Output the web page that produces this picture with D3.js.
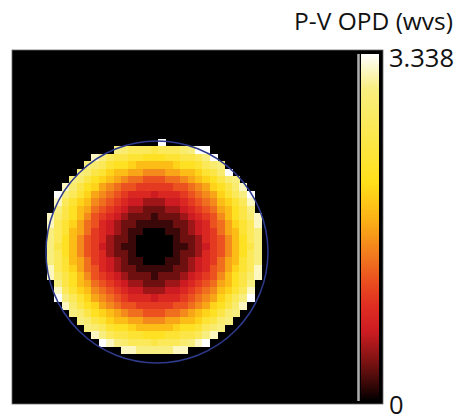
<!DOCTYPE html>
<html lang="en">
<head>
  <meta charset="UTF-8" />
  <title>P-V OPD map</title>
  <script src="https://cdn.jsdelivr.net/npm/d3@7"></script>
  <style>
    html, body {
      margin: 0;
      padding: 0;
      background: #fff;
      overflow: hidden;
    }
    svg {
      display: block;
    }
  </style>
</head>
<body>
  <script>
    // OPD levels, one char per pupil cell (0..k = 0..20 twentieths of max), "." = outside pupil
    const opdRows = [
      "...............k.............",
      ".........ihgggfggghikk.......",
      "......jigffeedddeeffgik......",
      ".....ihgeddcbbbbbcddeghi.....",
      "....ihfecbbaa999aabbcefhk....",
      "...ihfdcba988777889abcdfhi...",
      "..jhfdca9877666667789acdfhj..",
      ".kigeca987655545556789acegik.",
      ".jgecb98765443334456789bcegj.",
      ".ifdba87654332223345678abdfi.",
      "jhfdb9765432221222345679bdfhj",
      "jgeca8754322111112234578acegj",
      "igeba8654321100011234568abegi",
      "igdb976532210000012235679bdgi",
      "ifdb976432110000011234679bdfi",
      "igdb976532210000012235679bdgi",
      "igeba8654321100011234568abegi",
      "jgeca8754322111112234578acegj",
      "jhfdb9765432221222345679bdfhj",
      ".ifdba87654332223345678abdfi.",
      ".jgecb98765443334456789bcegj.",
      ".kigeca987655545556789acegik.",
      "..jhfdca9877666667789acdfhj..",
      "...ihfdcba988777889abcdfhi...",
      "....ihfecbbaa999aabbcefhi....",
      ".....ihgeddcbbbbbcddeghi.....",
      "......jigffeedddeeffgij......",
      ".......kjihgggfggghijk.......",
      "..........jjiiiiijj.........."
    ];
    const levelChars = "0123456789abcdefghijk";
    const maxOPD = 3.338;
    const colorbarTicks = [0, 3.338];
    const colorbarLabels = ["0", "3.338"];
    const legendTitle = "P-V OPD (wvs)";
    // pupil outline in grid units: centre column, centre row, radius
    const pupil = [14.86, 15.27, 15.0];

    // colormap stops (fraction of max) and colours, taken from the colour bar
    const cmapStops = [0, 0.03, 0.08, 0.13, 0.20, 0.27, 0.34, 0.42, 0.52, 0.63, 0.90, 1.0];
    const cmapColors = ["#000000", "#240404", "#5a0d0d", "#8c1414", "#cc1c22", "#df2c22",
                        "#ea4c1f", "#f27a1e", "#fbb016", "#ffe01a", "#f8ee80", "#ffffff"];

    const W = 457, H = 417;
    const nGrid = opdRows.length;

    const svg = d3.select("body").append("svg")
      .attr("width", W)
      .attr("height", H);

    const color = d3.scaleLinear()
      .domain(cmapStops.map(s => s * maxOPD))
      .range(cmapColors)
      .clamp(true);

    // grid -> pixel
    const x = d3.scaleLinear().domain([0, nGrid]).range([47, 261.6]);
    const y = d3.scaleLinear().domain([0, nGrid]).range([139, 353.6]);

    // black panel (map + colour bar frame)
    svg.append("rect")
      .attr("x", 12).attr("y", 50)
      .attr("width", 371).attr("height", 354)
      .attr("fill", "#000")
      .attr("stroke", "#6a6a6a")
      .attr("stroke-width", 0.8);

    // cells
    const cells = [];
    opdRows.forEach((row, i) => {
      [...row].forEach((ch, j) => {
        const k = levelChars.indexOf(ch);
        if (k >= 0) cells.push({ i, j, v: k / 20 * maxOPD });
      });
    });

    svg.append("g")
      .attr("shape-rendering", "crispEdges")
      .selectAll("rect")
      .data(cells)
      .join("rect")
        .attr("x", d => x(d.j))
        .attr("y", d => y(d.i))
        .attr("width", x(1) - x(0) + 0.5)
        .attr("height", y(1) - y(0) + 0.5)
        .attr("fill", d => color(d.v));

    // pupil outline
    svg.append("circle")
      .attr("cx", x(pupil[0]))
      .attr("cy", y(pupil[1]))
      .attr("r", x(pupil[2]) - x(0))
      .attr("fill", "none")
      .attr("stroke", "#2e3a8c")
      .attr("stroke-width", 1.5);

    // colour bar
    const cb = d3.scaleLinear().domain([0, maxOPD]).range([401, 54]);
    const grad = svg.append("defs").append("linearGradient")
      .attr("id", "cbar")
      .attr("x1", 0).attr("y1", 1).attr("x2", 0).attr("y2", 0);
    grad.selectAll("stop")
      .data(cmapStops)
      .join("stop")
        .attr("offset", d => d)
        .attr("stop-color", (d, i) => cmapColors[i]);

    svg.append("line")
      .attr("x1", 358.5).attr("x2", 358.5)
      .attr("y1", cb(maxOPD)).attr("y2", cb(0))
      .attr("stroke", "#b0b0b0")
      .attr("stroke-width", 2.5);

    svg.append("rect")
      .attr("x", 361).attr("y", cb(maxOPD))
      .attr("width", 18).attr("height", cb(0) - cb(maxOPD))
      .attr("fill", "url(#cbar)");

    const font = "'Open Sans', 'Noto Sans', sans-serif";
    svg.append("text")
      .attr("x", 453).attr("y", 30)
      .attr("text-anchor", "end")
      .attr("font-family", font)
      .attr("font-size", 24.5)
      .attr("fill", "#111")
      .text(legendTitle);

    svg.selectAll(".cblabel")
      .data(colorbarTicks)
      .join("text")
        .attr("class", "cblabel")
        .attr("x", 389)
        .attr("y", d => cb(d) + 13)
        .attr("font-family", font)
        .attr("font-size", 25.5)
        .attr("fill", "#111")
        .text((d, i) => colorbarLabels[i]);
  </script>
</body>
</html>
